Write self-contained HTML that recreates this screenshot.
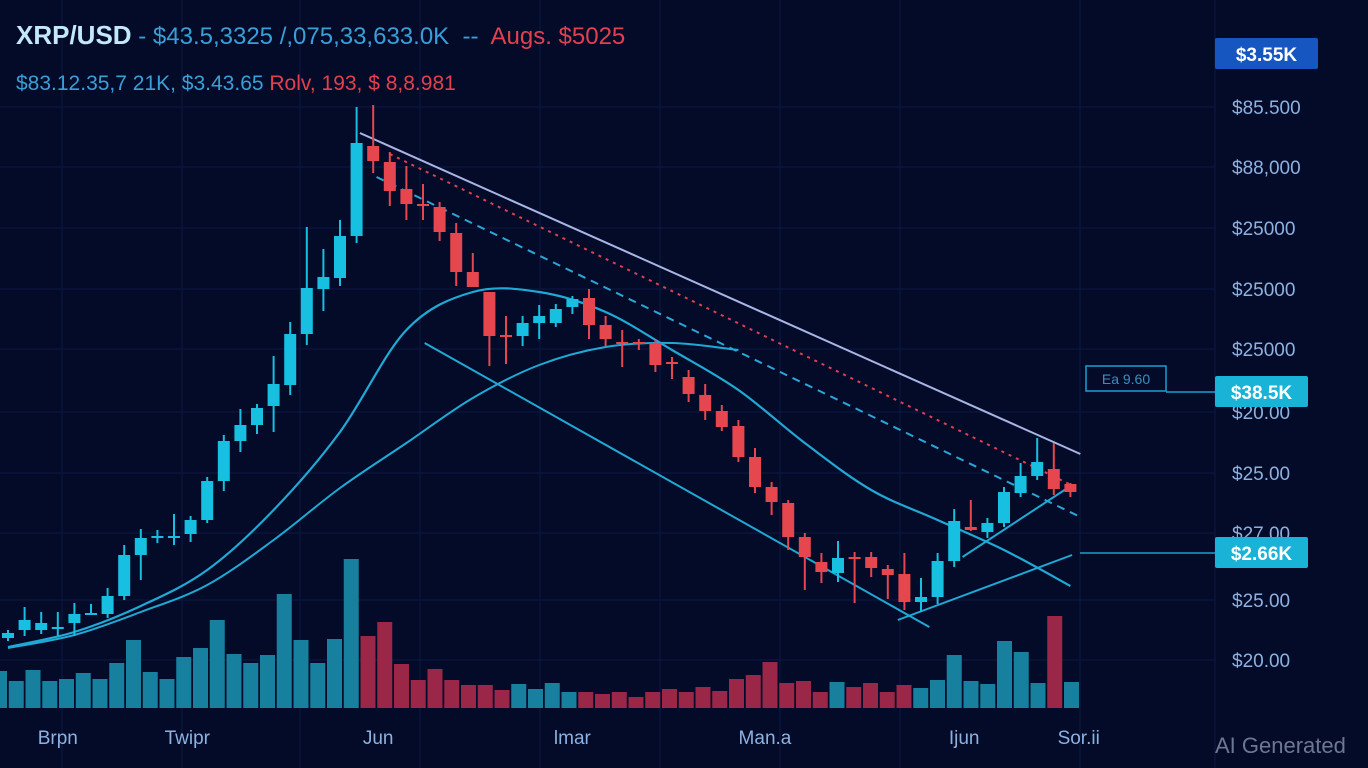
<!DOCTYPE html>
<html><head><meta charset="utf-8">
<style>
html,body{margin:0;padding:0;background:#030b28;}
#wrap{position:relative;width:1368px;height:768px;overflow:hidden;background:#030b28;font-family:"Liberation Sans",sans-serif;}
.hdr{position:absolute;left:16px;white-space:nowrap;}
</style></head>
<body>
<div id="wrap">
<svg id="chart" width="1368" height="768" viewBox="0 0 1368 768" style="position:absolute;left:0;top:0"></svg>
<div class="hdr" style="top:20px;font-size:24px;"><span style="color:#c4e8fb;font-size:26px;font-weight:bold;">XRP/USD</span><span style="color:#3a9fd8"> - $43.5,3325 /,075,33,633.0K&nbsp; --&nbsp; </span><span style="color:#e2404f">Augs. $5025</span></div>
<div class="hdr" style="top:72px;font-size:21px;"><span style="color:#3a9fd8">$83.12.35,7 21K, $3.43.65 </span><span style="color:#e2404f">Rolv, 193, $ 8,8.981</span></div>
<div style="position:absolute;left:1215px;top:746px;transform:translateY(-50%);font-size:22px;color:#6c7793;">AI Generated</div>
</div>
<script>
const candleOpen=[12.2,13.0,13.0,13.2,13.7,14.6,14.6,16.4,20.5,22.2,22.3,22.6,24.0,27.9,31.9,33.5,35.4,37.5,42.6,47.1,48.2,52.4,61.4,59.8,57.1,55.6,55.3,52.7,48.8,46.8,42.5,42.4,43.7,43.7,45.3,46.2,43.5,41.8,41.8,41.7,39.8,38.3,36.5,34.9,33.4,30.3,27.3,25.7,22.3,19.8,18.7,20.3,20.3,19.1,18.6,15.8,16.3,19.9,23.3,22.8,23.7,26.7,28.4,29.1,27.6];
const candleHigh=[13.0,15.3,14.8,14.8,15.7,15.6,17.2,21.5,23.1,23.0,24.6,24.4,28.3,32.5,35.1,35.6,40.4,43.8,53.3,51.1,54.0,65.3,65.5,60.8,59.4,57.6,55.8,53.7,50.7,46.8,44.4,44.4,45.5,45.6,46.4,47.1,44.4,43.0,42.1,42.0,40.3,39.0,37.6,35.5,34.0,31.2,27.8,26.0,22.7,20.7,21.9,20.8,20.8,19.5,20.7,18.2,20.7,25.1,26.0,24.2,27.3,29.7,32.2,31.7,27.7];
const candleLow=[11.9,12.4,12.6,12.4,12.4,14.6,14.2,16.0,18.0,21.7,21.5,21.8,23.7,26.9,30.8,32.6,32.8,36.5,41.5,44.9,47.4,51.7,58.7,55.4,54.0,54.0,51.9,47.4,47.3,39.4,39.6,41.4,42.1,43.3,44.6,42.1,41.4,39.3,41.0,38.8,38.1,35.8,34.0,32.9,29.8,26.7,24.5,21.0,17.0,17.7,17.8,15.7,18.3,16.1,15.0,14.8,15.6,19.3,22.9,22.2,23.3,26.3,28.0,26.5,26.3];
const candleClose=[12.7,14.0,13.7,13.3,14.6,14.7,16.4,20.5,22.2,22.4,22.4,24.0,27.9,31.9,33.5,35.2,37.6,42.6,47.2,48.3,52.4,61.7,59.9,56.9,55.6,55.5,52.8,48.8,47.3,42.4,42.4,43.7,44.4,45.1,46.1,43.5,42.1,41.7,41.7,39.5,39.7,36.6,34.9,33.3,30.3,27.3,25.8,22.3,20.3,18.8,20.2,20.2,19.2,18.5,15.8,16.3,19.9,23.9,23.0,23.7,26.8,28.4,29.8,27.1,26.8];
const volumes=[37,27,38,27,29,35,29,45,68,36,29,51,60,88,54,45,53,114,68,45,69,149,72,86,44,28,39,28,23,23,18,24,19,25,16,16,14,16,11,16,19,16,21,17,29,33,46,25,27,16,26,21,25,16,23,20,28,53,27,24,67,56,25,92,26];
const volumeUp=[1,1,1,1,1,1,1,1,1,1,1,1,1,1,1,1,1,1,1,1,1,1,0,0,0,0,0,0,0,0,0,1,1,1,1,0,0,0,0,0,0,0,0,0,0,0,0,0,0,0,1,0,0,0,0,1,1,1,1,1,1,1,1,0,1];
const maFastIdx=[0,4,8,12,16,20,24,28,32,36,40,44,48,52,56,60,64];
const maFastVals=[11.3,12.8,15.4,19.0,25.0,32.8,43.0,46.8,46.8,44.8,41.0,37.0,31.7,27.0,24.0,21.0,17.4];
const maSlowIdx=[0,4,8,12,16,20,24,28,32,36,40,44];
const maSlowVals=[11.2,12.5,14.8,17.5,22.0,27.2,31.7,36.2,39.5,41.3,41.7,41.0];
const trendStartIdx=[21.2,23.0,22.2,25.1,53.6,57.5];
const trendStartVal=[62.7,60.6,58.3,41.7,14.0,20.3];
const trendEndIdx=[64.6,64.3,64.6,55.5,64.1,64.1];
const trendEndVal=[30.6,27.3,24.3,13.3,20.5,27.5];
const tickVals=[65.3,59.3,53.2,47.1,41.1,34.8,28.7,22.7,16.0,10.0];
const tickLabels=["$85.500","$88,000","$25000","$25000","$25000","$20.00","$25.00","$27.00","$25.00","$20.00"];
const xLabelIdx=[3.0,10.8,22.3,34.0,45.6,57.6,64.5];
const xLabels=["Brpn","Twipr","Jun","lmar","Man.a","Ijun","Sor.ii"];
const tagVals=[70.6,36.8,20.7];
const tagLabels=["$3.55K","$38.5K","$2.66K"];

const NS="http://www.w3.org/2000/svg";
const svg=document.getElementById('chart');
function xScale(k){return 8+k*16.6;}
function yScale(v){return 760-v*10;}
function vScale(v){return v*1.0;}
const VOL_BASE=708;
function mk(tag,attrs,parent){const e=document.createElementNS(NS,tag);for(const a in attrs)e.setAttribute(a,attrs[a]);(parent||svg).appendChild(e);return e;}

const grid=mk('g',{});


tickVals.forEach(v=>{const l=mk('line',{x1:0,x2:1215,y1:yScale(v),y2:yScale(v),stroke:'#0c1a46','stroke-width':1},grid);

});
[62,182,300,420,540,660,780,900,1080,1215].forEach(x=>{const l=mk('line',{x1:x,x2:x,y1:0,y2:768,stroke:'#0b1843','stroke-width':1},grid);

});

const vg=mk('g',{});


volumes.forEach((v,i)=>{const h=vScale(v);const r=mk('rect',{x:-8+i*16.75,y:VOL_BASE-h,width:15,height:h,fill:volumeUp[i]?'#17809f':'#9a2748'},vg);

});

function pathFrom(idx,vals){let d='';const pts=idx.map((k,i)=>[xScale(k),yScale(vals[i])]);
d='M'+pts[0][0]+','+pts[0][1];
for(let i=0;i<pts.length-1;i++){const p0=pts[i-1]||pts[i],p1=pts[i],p2=pts[i+1],p3=pts[i+2]||p2;
const c1x=p1[0]+(p2[0]-p0[0])/6,c1y=p1[1]+(p2[1]-p0[1])/6,c2x=p2[0]-(p3[0]-p1[0])/6,c2y=p2[1]-(p3[1]-p1[1])/6;
d+=' C'+c1x+','+c1y+' '+c2x+','+c2y+' '+p2[0]+','+p2[1];}return d;}
const ma1=mk('path',{d:pathFrom(maFastIdx,maFastVals),fill:'none',stroke:'#1fa9d4','stroke-width':2.2});


const ma2=mk('path',{d:pathFrom(maSlowIdx,maSlowVals),fill:'none',stroke:'#1fa9d4','stroke-width':2});



const tStyles=[{stroke:'#a8b6e6',w:2,dash:''},{stroke:'#e0404f',w:2,dash:'3 5'},{stroke:'#2aa6d8',w:2,dash:'8 6'},{stroke:'#1fa9d4',w:2,dash:''},{stroke:'#1fa9d4',w:2,dash:''},{stroke:'#1fa9d4',w:2,dash:''}];
trendStartIdx.forEach((k,i)=>{const s=tStyles[i];const l=mk('line',{x1:xScale(k),y1:yScale(trendStartVal[i]),x2:xScale(trendEndIdx[i]),y2:yScale(trendEndVal[i]),stroke:s.stroke,'stroke-width':s.w,'stroke-dasharray':s.dash});

});

const cg=mk('g',{});


candleOpen.forEach((o,i)=>{const c=candleClose[i];const up=c>=o;const col=up?'#17bfe0':'#e6474f';const x=xScale(i);
const g=mk('g',{},cg);


mk('line',{x1:x,x2:x,y1:yScale(candleHigh[i]),y2:yScale(candleLow[i]),stroke:col,'stroke-width':2},g);
const top=yScale(Math.max(o,c)),bh=Math.max(2,Math.abs(yScale(o)-yScale(c)));
mk('rect',{x:x-6,y:top,width:12,height:bh,fill:col},g);});

const ag=mk('g',{});


tickVals.forEach((v,i)=>{const t=mk('text',{x:1232,y:yScale(v)+7,fill:'#8db2e2','font-size':19,'font-family':'Liberation Sans, sans-serif'},ag);t.textContent=tickLabels[i];

});

const xg=mk('g',{});


xLabelIdx.forEach((k,i)=>{const t=mk('text',{x:xScale(k),y:744,fill:'#8db2e2','font-size':19,'text-anchor':'middle','font-family':'Liberation Sans, sans-serif'},xg);t.textContent=xLabels[i];

});

const cn1=mk('line',{x1:1166,x2:1215,y1:yScale(tagVals[1]),y2:yScale(tagVals[1]),stroke:'#1a9fd0','stroke-width':1.5});


const cn2=mk('line',{x1:1080,x2:1215,y1:yScale(tagVals[2]),y2:yScale(tagVals[2]),stroke:'#1a9fd0','stroke-width':1.5});


const eb=mk('rect',{x:1086,y:366,width:80,height:25,fill:'none',stroke:'#1a9fd0','stroke-width':1.5});


const et=mk('text',{x:1126,y:384,fill:'#3a8fc0','font-size':14,'text-anchor':'middle','font-family':'Liberation Sans, sans-serif'});et.textContent='Ea 9.60';



const tagFill=['#1656c0','#19b3d8','#19b3d8'];
const tagW=[103,93,93];
tagVals.forEach((v,i)=>{const y=yScale(v);const g=mk('g',{});


mk('rect',{x:1215,y:y-16,width:tagW[i],height:31,fill:tagFill[i],rx:2},g);
const t=mk('text',{x:1215+tagW[i]/2,y:y+7,fill:'#ffffff','font-size':19,'font-weight':'bold','text-anchor':'middle','font-family':'Liberation Sans, sans-serif'},g);t.textContent=tagLabels[i];});
</script>
</body></html>
